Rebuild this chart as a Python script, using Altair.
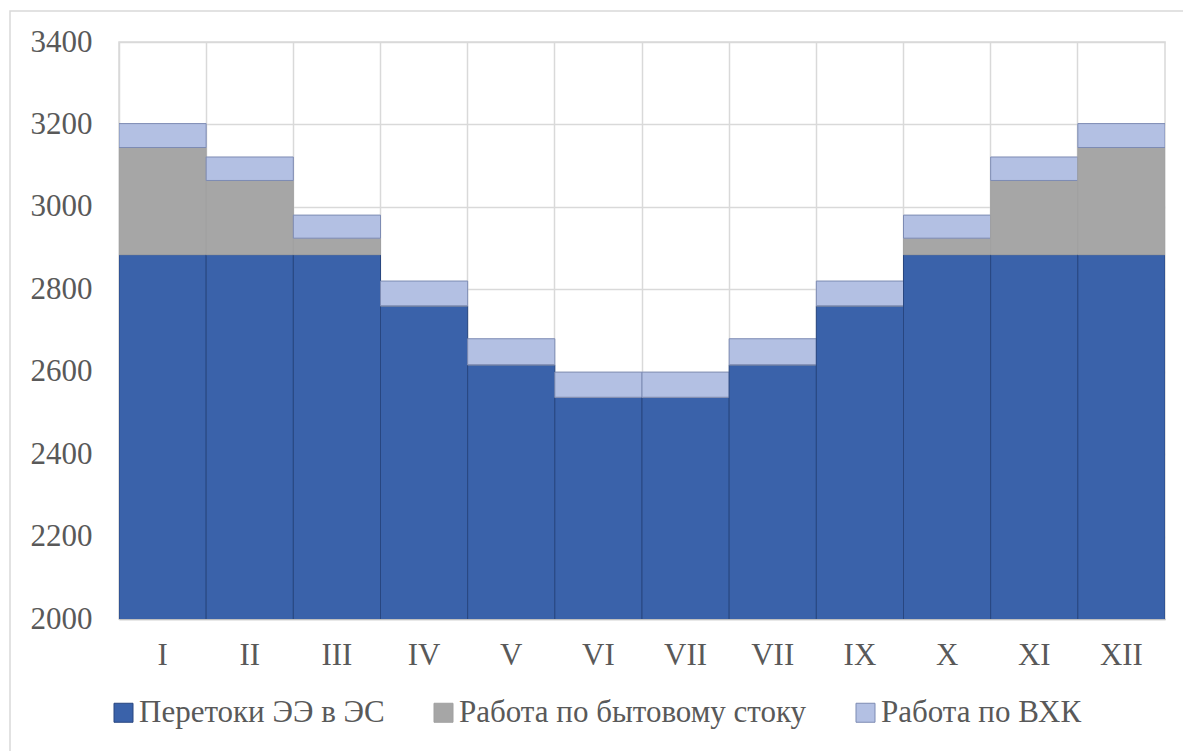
import altair as alt
import pandas as pd

months = ["I", "II", "III", "IV", "V", "VI", "VII", "VII", "IX", "X", "XI", "XII"]
series_names = ["Перетоки ЭЭ в ЭС", "Работа по бытовому стоку", "Работа по ВХК"]
flows = [2884, 2884, 2884, 2760, 2617, 2538, 2538, 2617, 2760, 2884, 2884, 2884]
household = [260, 180, 40, 0, 0, 0, 0, 0, 0, 40, 180, 260]
vhk = [58, 57, 56, 60, 63, 61, 61, 63, 60, 56, 57, 58]
y_ticks = [2000, 2200, 2400, 2600, 2800, 3000, 3200, 3400]

fill_colors = ["#3A62AA", "#A6A6A6", "#B3C0E3"]
stroke_colors = ["#284680", "#A0A0A0", "#7D8BB3"]

rows = []
for i, m in enumerate(months):
    for k, (name, vals) in enumerate(zip(series_names, [flows, household, vhk])):
        rows.append({"idx": i, "series": name, "value": vals[i], "ord": k})
df = pd.DataFrame(rows)

label_expr = "[" + ",".join("'" + m + "'" for m in months) + "][datum.value]"
FONT = "Liberation Serif, Times New Roman, DejaVu Serif, serif"
TXT = "#595959"

bars = alt.Chart(df).mark_bar(clip=True, strokeWidth=1).encode(
    x=alt.X("idx:O",
            scale=alt.Scale(paddingInner=0, paddingOuter=0),
            axis=alt.Axis(title=None, labelExpr=label_expr, labelAngle=0, ticks=False,
                          domain=True, domainColor="#BFBFBF", domainWidth=1.5,
                          grid=True, gridColor="#D9D9D9", gridWidth=1.5, bandPosition=0,
                          labelFont=FONT, labelFontSize=31, labelColor=TXT, labelPadding=21)),
    y=alt.Y("value:Q", stack="zero",
            scale=alt.Scale(domain=[2000, 3400], nice=False, zero=False),
            axis=alt.Axis(title=None, values=y_ticks, format="d", ticks=False, domain=False,
                          gridColor="#D9D9D9", gridWidth=1.5,
                          labelFont=FONT, labelFontSize=31, labelColor=TXT, labelPadding=27)),
    color=alt.Color("series:N", sort=series_names,
                    scale=alt.Scale(domain=series_names, range=fill_colors),
                    legend=alt.Legend(title=None, orient="none", legendX=-11, legendY=655,
                                      direction="horizontal", columns=3, columnPadding=43,
                                      symbolType="square", symbolSize=361, labelOffset=0,
                                      labelLimit=600, labelFont=FONT, labelFontSize=31,
                                      labelColor=TXT, symbolStrokeWidth=1)),
    stroke=alt.Stroke("series:N", sort=series_names,
                      scale=alt.Scale(domain=series_names, range=stroke_colors), legend=None),
    order=alt.Order("ord:Q"),
)

border = alt.Chart(alt.Data(values=[{"a": 1}])).mark_rect(
    filled=False, stroke="#D9D9D9", strokeWidth=1.5, clip=False
).encode(
    x=alt.value(-109), x2=alt.value(1080), y=alt.value(-31), y2=alt.value(720)
)

chart = alt.layer(border, bars).properties(
    width=1046, height=577,
    autosize=alt.AutoSizeParams(type="none"),
    padding={"left": 119, "top": 42, "right": 18, "bottom": 132},
    background="white",
).configure(font=FONT).configure_view(stroke="#D9D9D9", strokeWidth=1.5
).configure_legend(labelFont=FONT, labelFontSize=31, labelColor=TXT
).configure_axis(labelFont=FONT, labelFontSize=31, labelColor=TXT)

chart.save("out.html", embed_options={"renderer": "svg", "actions": False})
